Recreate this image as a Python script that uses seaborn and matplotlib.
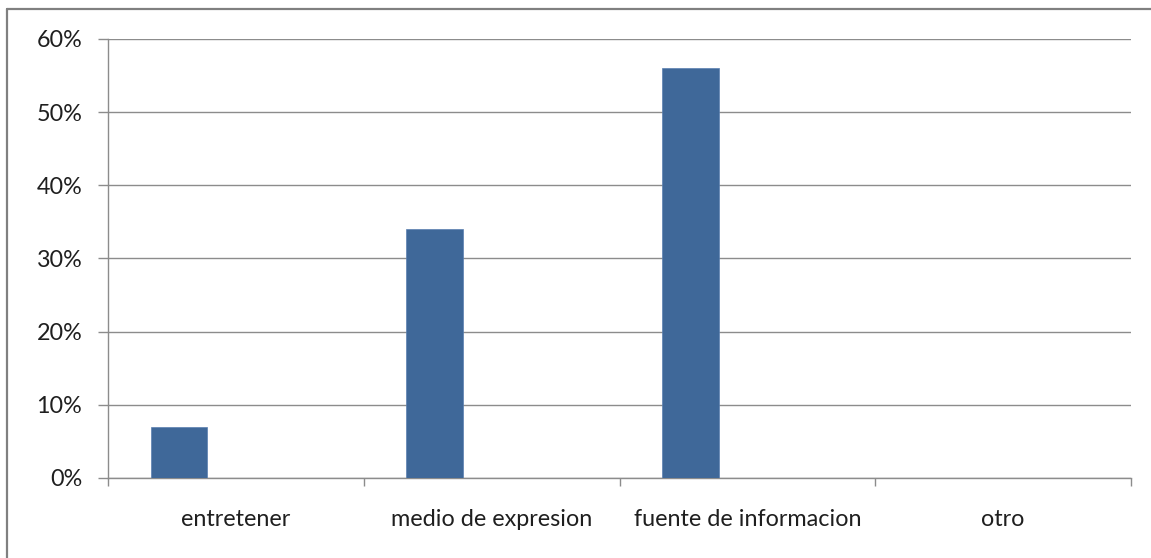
import matplotlib
matplotlib.use("Agg")
import matplotlib.pyplot as plt
from matplotlib.lines import Line2D
from matplotlib.ticker import PercentFormatter, MultipleLocator
import seaborn as sns
import pandas as pd

# Survey answers: share of respondents per purpose
categories = ["entretener", "medio de expresion", "fuente de informacion", "otro"]
values = [0.07, 0.34, 0.56, 0.0]
series_name = "Serie1"
# Chart was laid out for three series; only the first carries data
series_slots = ["Serie1", "Serie2", "Serie3"]

df = pd.DataFrame({"categoria": categories, "valor": values, "serie": series_name})

sns.set_theme(style="white")
plt.rcParams["font.family"] = ["Lato", "DejaVu Sans"]

grid_col = "#8c8c8c"
bar_col = "#3f6899"
text_col = "#1f1f1f"

fig = plt.figure(figsize=(11.51, 5.58), dpi=100, facecolor="white")
ax = fig.add_axes([108 / 1151, 1 - 478 / 558, (1131 - 108) / 1151, (478 - 39) / 558])

sns.barplot(data=df, x="categoria", y="valor", hue="serie", hue_order=series_slots,
            palette=[bar_col] * 3, width=3 / 4.5, dodge=True, legend=False,
            saturation=1, edgecolor="#5a7fb0", linewidth=0.5, ax=ax, zorder=3)

ax.set_ylim(0, 0.6)
ax.set_xlim(-0.5, len(categories) - 0.5)
ax.yaxis.set_major_locator(MultipleLocator(0.1))
ax.yaxis.set_major_formatter(PercentFormatter(1.0, decimals=0))
ax.grid(axis="y", color=grid_col, linewidth=1.0, zorder=0)
ax.set_axisbelow(True)

for side in ["top", "right"]:
    ax.spines[side].set_visible(False)
for side in ["left", "bottom"]:
    ax.spines[side].set_color(grid_col)
    ax.spines[side].set_linewidth(1.0)

# Category ticks sit on the boundaries between groups; labels stay centred
ax.set_xticks([i - 0.5 for i in range(len(categories) + 1)], minor=False)
ax.set_xticklabels([])
ax.set_xticks(range(len(categories)), minor=True)
ax.set_xticklabels(categories, minor=True)
ax.tick_params(axis="x", which="major", length=6, width=1, color=grid_col, bottom=True)
ax.tick_params(axis="x", which="minor", length=0, pad=22, labelsize=16.8, labelcolor=text_col)
ax.tick_params(axis="y", length=7, width=1, color=grid_col, left=True, pad=11.5,
               labelsize=16.8, labelcolor=text_col)

ax.set_xlabel("")
ax.set_ylabel("")

# Outer chart frame (top and left edges visible)
fig.add_artist(Line2D([7.5 / 1151, 7.5 / 1151], [0, 1 - 9 / 558], transform=fig.transFigure,
                      color="#808080", linewidth=1.6))
fig.add_artist(Line2D([7.5 / 1151, 1], [1 - 9 / 558, 1 - 9 / 558], transform=fig.transFigure,
                      color="#808080", linewidth=1.6))

fig.savefig("out.png", dpi=100, facecolor="white")
